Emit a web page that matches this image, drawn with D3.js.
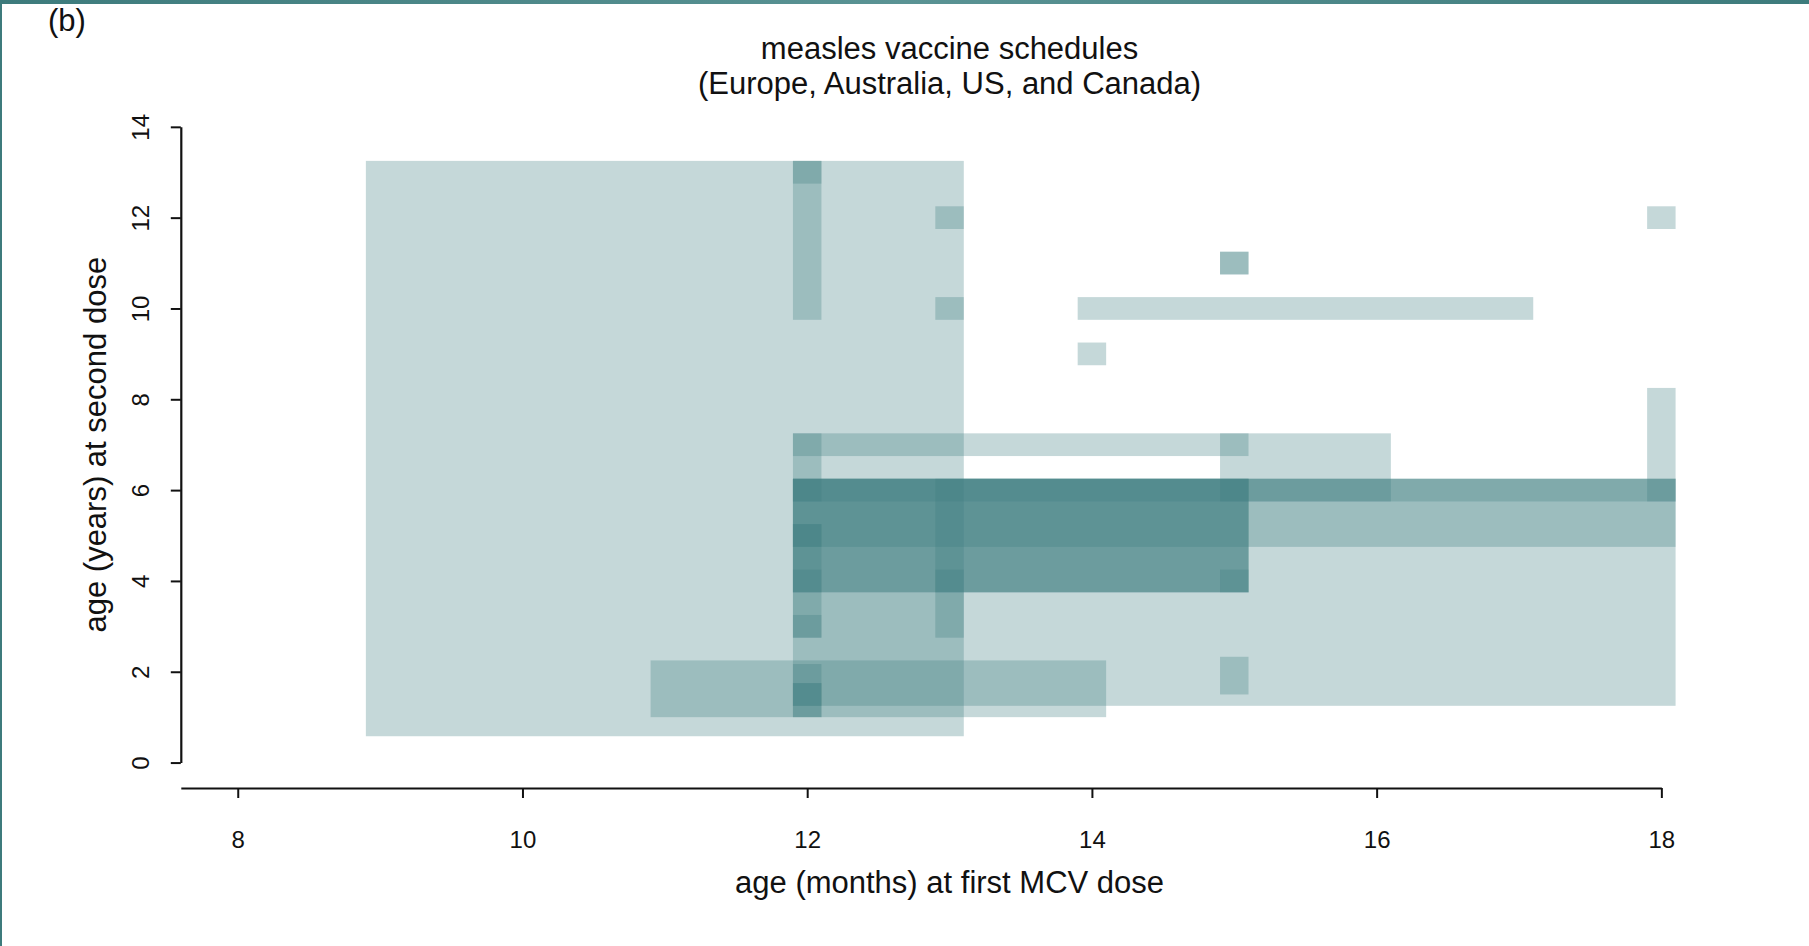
<!DOCTYPE html>
<html>
<head>
<meta charset="utf-8">
<script src="https://cdn.jsdelivr.net/npm/d3@7"></script>
<style>
  body { margin: 0; background: #ffffff; }
  svg { display: block; }
  text { font-family: "Liberation Sans", Arial, Helvetica, sans-serif; fill: #111; }
</style>
</head>
<body>
<svg id="chart" width="1809" height="946"></svg>
<script>
// ---- data: one entry per schedule (first dose in months, second dose in years) ----
const firstDoseFrom  = [9, 12, 12, 13, 13, 15, 15, 18, 14, 14, 11, 15, 12, 15, 18, 12, 12, 12, 12, 12, 13, 13, 15, 12, 12, 12, 12, 12, 12, 12, 12];
const firstDoseTo    = [13, 12, 12, 13, 13, 15, 15, 18, 17, 14, 14, 15, 15, 16, 18, 18, 18, 18, 15, 15, 15, 13, 15, 12, 12, 12, 12, 12, 12, 12, 12];
const secondDoseFrom = [0.83, 10, 13, 12, 10, 11, 11, 12, 10, 9, 1.25, 1.75, 7, 6, 6, 1.5, 5, 6, 4, 4, 4, 3, 4, 6, 3, 5, 4, 3, 1.25, 1.25, 1.5];
const secondDoseTo   = [13, 13, 13, 12, 10, 11, 11, 12, 10, 9, 2, 2.08, 7, 7, 8, 6, 6, 6, 6, 6, 6, 4, 4, 7, 5, 5, 4, 3, 1.92, 1.5, 1.5];

const xTicks = [8, 10, 12, 14, 16, 18];
const yTicks = [0, 2, 4, 6, 8, 10, 12, 14];

const titleLines = ["measles vaccine schedules", "(Europe, Australia, US, and Canada)"];
const xLabel = "age (months) at first MCV dose";
const yLabel = "age (years) at second dose";
const panelLabel = "(b)";

// ---- styling constants ----
const fillColor = "rgb(62,125,128)";
const fillOpacity = 0.3;
const padX = 0.1;   // months each side of a schedule cell
const padY = 0.25;  // years each side of a schedule cell

const schedules = firstDoseFrom.map((d, i) => ({
  x0: d, x1: firstDoseTo[i], y0: secondDoseFrom[i], y1: secondDoseTo[i]
}));

const svg = d3.select("#chart");

// page edge strips (slide background)
const defs = svg.append("defs");
const grad = defs.append("linearGradient").attr("id", "edge").attr("x1", "0").attr("x2", "1");
grad.append("stop").attr("offset", "0").attr("stop-color", "#3d7b7c");
grad.append("stop").attr("offset", "0.5").attr("stop-color", "#5a9394");
grad.append("stop").attr("offset", "1").attr("stop-color", "#3d7b7c");
svg.append("rect").attr("x", 0).attr("y", 0).attr("width", 1809).attr("height", 4).attr("fill", "url(#edge)");
svg.append("rect").attr("x", 0).attr("y", 0).attr("width", 2).attr("height", 946).attr("fill", "#3d7b7c");

// scales
const x = d3.scaleLinear().domain([7.6, 18.4]).range([180.8, 1718.3]);
const y = d3.scaleLinear().domain([-0.56, 14.56]).range([788.0, 101.4]);

// rectangles
svg.append("g")
  .selectAll("rect")
  .data(schedules)
  .join("rect")
  .attr("x", d => x(d.x0 - padX))
  .attr("width", d => x(d.x1 + padX) - x(d.x0 - padX))
  .attr("y", d => y(d.y1 + padY))
  .attr("height", d => y(d.y0 - padY) - y(d.y1 + padY))
  .attr("fill", fillColor)
  .attr("fill-opacity", fillOpacity);

// x axis (line from plot edge to last tick)
const xAxisScale = d3.scaleLinear().domain([7.6, 18]).range([x(7.6), x(18)]);
const gx = svg.append("g")
  .attr("transform", `translate(0,${y(-0.56)})`)
  .call(d3.axisBottom(xAxisScale).tickValues(xTicks).tickSize(10).tickSizeOuter(0).tickFormat(d3.format("d")));
gx.select(".domain").attr("stroke", "#111").attr("stroke-width", 2.2);
gx.selectAll(".tick line").attr("stroke", "#111").attr("stroke-width", 2);
gx.selectAll(".tick text")
  .attr("y", 52).attr("dy", "0.35em")
  .style("font-size", "24px").style("font-family", "'Liberation Sans', Arial, sans-serif").attr("fill", "#111");

// y axis
const yAxisScale = d3.scaleLinear().domain([0, 14]).range([y(0), y(14)]);
const gy = svg.append("g")
  .attr("transform", `translate(${x(7.6)},0)`)
  .call(d3.axisLeft(yAxisScale).tickValues(yTicks).tickSize(10).tickSizeOuter(0).tickFormat(d3.format("d")));
gy.select(".domain").attr("stroke", "#111").attr("stroke-width", 2.2);
gy.selectAll(".tick line").attr("stroke", "#111").attr("stroke-width", 2);
gy.selectAll(".tick text")
  .attr("x", null).attr("dy", null)
  .attr("text-anchor", "middle")
  .attr("transform", "translate(-40,0) rotate(-90)")
  .attr("dy", "0.35em")
  .style("font-size", "24px").style("font-family", "'Liberation Sans', Arial, sans-serif").attr("fill", "#111");

// titles
const cx = x(13);
svg.append("text").attr("x", cx).attr("y", 58.5).attr("text-anchor", "middle")
  .style("font-size", "31px").text(titleLines[0]);
svg.append("text").attr("x", cx).attr("y", 94).attr("text-anchor", "middle")
  .style("font-size", "31px").text(titleLines[1]);

svg.append("text").attr("x", cx).attr("y", 893).attr("text-anchor", "middle")
  .style("font-size", "31px").text(xLabel);

svg.append("text")
  .attr("transform", `translate(106,${y(7)}) rotate(-90)`)
  .attr("text-anchor", "middle")
  .style("font-size", "31px").text(yLabel);

svg.append("text").attr("x", 48).attr("y", 31).style("font-size", "31px").text(panelLabel);
</script>
</body>
</html>
